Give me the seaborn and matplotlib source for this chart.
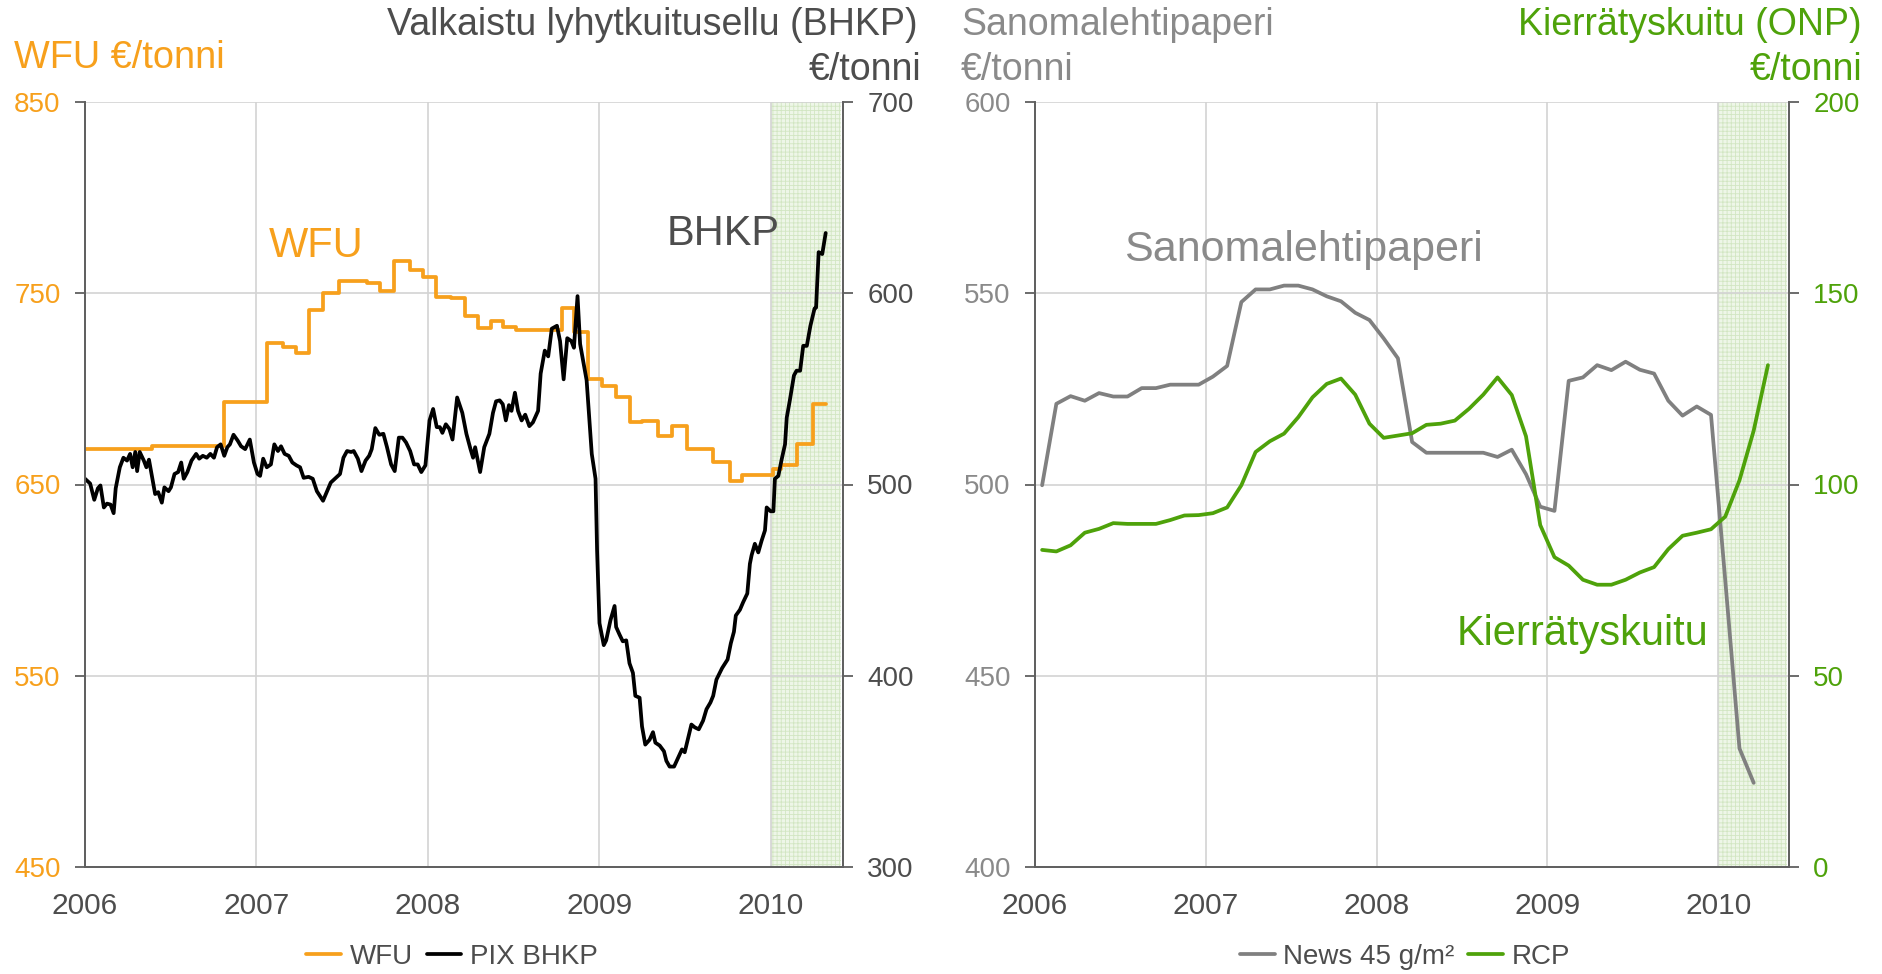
import matplotlib
matplotlib.use('Agg')
import matplotlib.pyplot as plt
import seaborn as sns
import pandas as pd

# --- data -------------------------------------------------------------
# PIX BHKP (weekly), EUR/t, right axis of left chart
pix_year = [2006.000, 2006.030, 2006.054, 2006.075, 2006.090, 2006.110, 2006.128, 2006.149, 2006.167, 2006.179,
            2006.203, 2006.224, 2006.245, 2006.263, 2006.278, 2006.293, 2006.304, 2006.319, 2006.343, 2006.358,
            2006.373, 2006.388, 2006.409, 2006.427, 2006.448, 2006.463, 2006.487, 2006.501, 2006.522, 2006.543,
            2006.561, 2006.576, 2006.597, 2006.621, 2006.648, 2006.666, 2006.687, 2006.710, 2006.731, 2006.752,
            2006.770, 2006.791, 2006.812, 2006.830, 2006.845, 2006.866, 2006.890, 2006.910, 2006.934, 2006.961,
            2006.985, 2007.006, 2007.021, 2007.039, 2007.060, 2007.084, 2007.104, 2007.125, 2007.143, 2007.164,
            2007.188, 2007.209, 2007.233, 2007.254, 2007.275, 2007.304, 2007.328, 2007.352, 2007.388, 2007.412,
            2007.433, 2007.463, 2007.487, 2007.507, 2007.528, 2007.552, 2007.567, 2007.591, 2007.612, 2007.636,
            2007.657, 2007.672, 2007.693, 2007.716, 2007.740, 2007.761, 2007.785, 2007.806, 2007.830, 2007.851,
            2007.872, 2007.896, 2007.919, 2007.940, 2007.961, 2007.985, 2008.009, 2008.030, 2008.051, 2008.069,
            2008.084, 2008.104, 2008.125, 2008.143, 2008.170, 2008.200, 2008.224, 2008.248, 2008.263, 2008.275,
            2008.304, 2008.328, 2008.358, 2008.379, 2008.397, 2008.418, 2008.436, 2008.454, 2008.472, 2008.487,
            2008.507, 2008.525, 2008.546, 2008.567, 2008.591, 2008.612, 2008.642, 2008.657, 2008.681, 2008.701,
            2008.722, 2008.752, 2008.770, 2008.791, 2008.812, 2008.836, 2008.851, 2008.872, 2008.887, 2008.925,
            2008.955, 2008.977, 2008.986, 2009.000, 2009.025, 2009.039, 2009.064, 2009.088, 2009.097, 2009.117,
            2009.136, 2009.156, 2009.175, 2009.195, 2009.209, 2009.234, 2009.248, 2009.267, 2009.292, 2009.312,
            2009.326, 2009.351, 2009.376, 2009.390, 2009.409, 2009.435, 2009.458, 2009.481, 2009.497, 2009.520,
            2009.536, 2009.556, 2009.579, 2009.604, 2009.624, 2009.647, 2009.663, 2009.682, 2009.715, 2009.747,
            2009.766, 2009.784, 2009.795, 2009.819, 2009.838, 2009.862, 2009.877, 2009.887, 2009.906, 2009.926,
            2009.945, 2009.965, 2009.975, 2009.998, 2010.014, 2010.023, 2010.043, 2010.062, 2010.082, 2010.092,
            2010.110, 2010.134, 2010.149, 2010.170, 2010.188, 2010.209, 2010.230, 2010.254, 2010.263, 2010.278,
            2010.299, 2010.319]
pix_value = [503, 500.5, 492, 498, 499.5, 488, 490, 489.5, 485, 498,
             509, 514, 512.5, 516, 509, 517, 507, 517, 512.5, 509,
             513, 505.5, 495, 496, 490.5, 498.5, 496.5, 498.5, 505.5, 506.5,
             511.5, 503, 506.5, 512.5, 516, 513.5, 515, 514, 516, 514,
             519.5, 521, 515, 519.5, 521, 526, 523, 520, 518.5, 523.5,
             511.5, 505.5, 504.5, 513.5, 509, 510.5, 521, 517.5, 520, 516,
             515, 511.5, 510, 509, 503.5, 504, 503, 496.5, 491.5, 496.5,
             501, 503.5, 505.5, 514, 517.5, 517, 517.5, 513.5, 507, 512.5,
             515, 518.5, 529.5, 526, 526.5, 519.5, 510.5, 507, 524.5, 524.5,
             522, 517.5, 510.5, 510.5, 506.5, 510, 533.5, 539.5, 530, 530,
             527, 531.5, 529, 523.5, 545.5, 537.5, 526.5, 518.5, 514, 519.5,
             506.5, 519.5, 526.5, 537.5, 543.5, 544, 542, 533.5, 541.5, 538.5,
             548, 538.5, 533.5, 536.5, 530.5, 532.5, 538.5, 558, 570, 567,
             581.5, 583, 575, 555, 576.5, 575, 571.5, 598.5, 573.5, 554.5,
             516, 503, 465.5, 427.5, 416, 418.5, 429, 436.5, 425.5, 421.5,
             418, 418.5, 406.5, 401.5, 389.5, 388.5, 373.5, 364, 366.5, 370.5,
             365, 363.5, 360.5, 355.5, 352.5, 352.5, 357, 361.5, 360, 368.5,
             374.5, 373, 372, 376.5, 382.5, 386, 389.5, 398, 404, 408.5,
             417, 423, 431.5, 434.5, 438.5, 443, 458.5, 463, 469, 464.5,
             470.5, 476, 488, 486, 486, 503, 504.5, 513, 521, 535,
             544, 557, 559.5, 559.5, 572.5, 572.5, 583, 592, 592.5, 621.5,
             620.5, 631.5]

# WFU price steps (EUR/t), left axis of left chart
wfu_year = [2006.000, 2006.388, 2006.812, 2007.063, 2007.155, 2007.230, 2007.307, 2007.385, 2007.481, 2007.642,
            2007.719, 2007.800, 2007.893, 2007.970, 2008.048, 2008.134, 2008.218, 2008.293, 2008.367, 2008.439,
            2008.516, 2008.780, 2008.851, 2008.934, 2009.015, 2009.099, 2009.179, 2009.250, 2009.340, 2009.420,
            2009.510, 2009.660, 2009.760, 2009.830, 2010.010, 2010.060, 2010.150, 2010.245, 2010.320]
wfu_value = [668.5, 670.2, 693.3, 724, 722, 719, 741.5, 750, 756.5, 755.5,
             751, 767, 762, 758.5, 748, 747.5, 738, 732, 735.5, 732.5,
             731, 742.5, 729.5, 705, 701.5, 696, 682.5, 683, 675.6, 680.5,
             668.7, 661.8, 652, 655, 658, 660.2, 671, 692, 692]

# monthly series, right chart
months = pd.period_range('2006-01', '2010-04', freq='M')
news_value = [499.8, 521.1, 523.1, 521.9, 523.9, 523, 523, 525.2, 525.2, 526.1, 526.1, 526.1,
              528.2, 531, 547.7, 551, 551, 552, 552, 551, 549.2, 547.9, 544.9, 543,
              538.2, 533, 511.1, 508.3, 508.3, 508.3, 508.3, 508.3, 507.2, 509.1, 502.7, 494.2,
              493.1, 527.1, 528, 531.2, 529.9, 532.1, 530, 529, 521.9, 518, 520.4, 518.2,
              475, 431, 422]
rcp_value = [82.9, 82.5, 84.1, 87.4, 88.4, 89.9, 89.7, 89.7, 89.7, 90.7, 91.9, 92,
             92.5, 94, 99.8, 108.5, 111.3, 113.3, 117.6, 122.8, 126.3, 127.7, 123.5, 115.9,
             112.2, 112.8, 113.4, 115.6, 115.9, 116.7, 119.8, 123.5, 128, 123.4, 112.6, 89.4,
             81, 78.8, 75.1, 73.8, 73.8, 75.1, 77, 78.4, 83.1, 86.6, 87.4, 88.3,
             91.6, 101.1, 114.1, 131.2]

year_ticks = [2006, 2007, 2008, 2009, 2010]

# --- style --------------------------------------------------------------
ORANGE = '#F7A01C'
GREEN = '#4EA20A'
GRAY = '#808080'
TXT = '#4D4D4D'
LGRAY = '#8A8A8A'
SPINE = '#606060'

sns.set_theme(style='white')
plt.rcParams['font.family'] = ['Liberation Sans', 'DejaVu Sans']
plt.rcParams['hatch.linewidth'] = 0.6
plt.rcParams['hatch.color'] = '#CFE3BC'

month_year = [p.year + (p.month - 0.5) / 12 for p in months]
df_pix = pd.DataFrame({'x': pix_year, 'y': pix_value})
df_wfu = pd.DataFrame({'x': wfu_year, 'y': wfu_value})
df_news = pd.DataFrame({'x': month_year[:len(news_value)], 'y': news_value})
df_rcp = pd.DataFrame({'x': month_year[:len(rcp_value)], 'y': rcp_value})

fig = plt.figure(figsize=(18.83, 9.74), dpi=100)
W, H = 1883, 974
ax1 = fig.add_axes([85 / W, 1 - 867 / H, (843 - 85) / W, (867 - 102) / H])
ax3 = fig.add_axes([1035 / W, 1 - 867 / H, (1789 - 1035) / W, (867 - 102) / H])
ax2 = ax1.twinx()
ax4 = ax3.twinx()


def style_pair(a, b, xmax, lcol, rcol):
    a.set_xlim(2006, xmax)
    a.set_xticks(year_ticks)
    a.set_xticklabels([str(t) for t in year_ticks])
    a.grid(True, color='#D3D3D3', lw=1.2)
    a.set_axisbelow(True)
    b.grid(False)
    for ax in (a, b):
        ax.set_xlabel('')
        ax.set_ylabel('')
        ax.spines['top'].set_visible(False)
        for s in ('left', 'right', 'bottom'):
            ax.spines[s].set_color(SPINE)
            ax.spines[s].set_linewidth(1.3)
    a.tick_params(axis='x', length=0, pad=18, labelsize=21.5, labelcolor=TXT)
    a.tick_params(axis='y', left=True, length=7.5, width=1.3, color=SPINE,
                  direction='out', labelsize=20, labelcolor=lcol, pad=10)
    b.tick_params(axis='y', right=True, length=7.5, width=1.3, color=SPINE,
                  direction='out', labelsize=20, labelcolor=rcol, pad=10)
    a.axvspan(2010.0, xmax - 0.012, facecolor='#EEF6E8', edgecolor='#D2E6C2',
              hatch='++++', lw=0, zorder=0.5)


# left chart
sns.lineplot(data=df_wfu, x='x', y='y', ax=ax1, color=ORANGE, lw=2.7,
             drawstyle='steps-post', estimator=None, label='WFU', legend=False)
sns.lineplot(data=df_pix, x='x', y='y', ax=ax2, color='black', lw=2.7,
             estimator=None, label='PIX BHKP', legend=False)
ax1.set_ylim(450, 850)
ax1.set_yticks([450, 550, 650, 750, 850])
ax2.set_ylim(300, 700)
ax2.set_yticks([300, 400, 500, 600, 700])
style_pair(ax1, ax2, 2010.42, ORANGE, TXT)

# right chart
sns.lineplot(data=df_news, x='x', y='y', ax=ax3, color=GRAY, lw=2.7,
             estimator=None, label='News 45 g/m²', legend=False)
sns.lineplot(data=df_rcp, x='x', y='y', ax=ax4, color=GREEN, lw=2.7,
             estimator=None, label='RCP', legend=False)
ax3.set_ylim(400, 600)
ax3.set_yticks([400, 450, 500, 550, 600])
ax4.set_ylim(0, 200)
ax4.set_yticks([0, 50, 100, 150, 200])
style_pair(ax3, ax4, 2010.415, LGRAY, GREEN)

# in-plot labels
ax1.text(2007.07, 769, 'WFU', color=ORANGE, fontsize=30, va='baseline')
ax1.text(2009.39, 775, 'BHKP', color=TXT, fontsize=30, va='baseline')
ax3.text(2006.52, 558.4, 'Sanomalehtipaperi', color=LGRAY, fontsize=31, va='baseline')
ax3.text(2008.47, 458, 'Kierrätyskuitu', color=GREEN, fontsize=30, va='baseline', zorder=5)

# headers
fig.text(14 / W, 1 - 68 / H, 'WFU €/tonni', color=ORANGE, fontsize=27.3, va='baseline')
fig.text(918 / W, 1 - 35 / H, 'Valkaistu lyhytkuitusellu (BHKP)', color=TXT, fontsize=27,
         va='baseline', ha='right')
fig.text(921 / W, 1 - 80 / H, '€/tonni', color=TXT, fontsize=27, va='baseline', ha='right')
fig.text(961 / W, 1 - 35 / H, 'Sanomalehtipaperi', color=LGRAY, fontsize=27, va='baseline')
fig.text(961 / W, 1 - 80 / H, '€/tonni', color=LGRAY, fontsize=27, va='baseline')
fig.text(1862 / W, 1 - 35 / H, 'Kierrätyskuitu (ONP)', color=GREEN, fontsize=27,
         va='baseline', ha='right')
fig.text(1862 / W, 1 - 80 / H, '€/tonni', color=GREEN, fontsize=27, va='baseline', ha='right')

# legends
h1 = ax1.get_lines()[:1] + ax2.get_lines()[:1]
h2 = ax3.get_lines()[:1] + ax4.get_lines()[:1]
for handles, cx in ((h1, 452), (h2, 1405)):
    leg = fig.legend(handles, [h.get_label() for h in handles], loc='center',
                     bbox_to_anchor=(cx / W, 1 - 957 / H), ncol=2, frameon=False,
                     fontsize=20, handlelength=1.25, handletextpad=0.3,
                     columnspacing=0.5, borderpad=0)
    for t in leg.get_texts():
        t.set_color(TXT)

fig.savefig('out.png', dpi=100)
